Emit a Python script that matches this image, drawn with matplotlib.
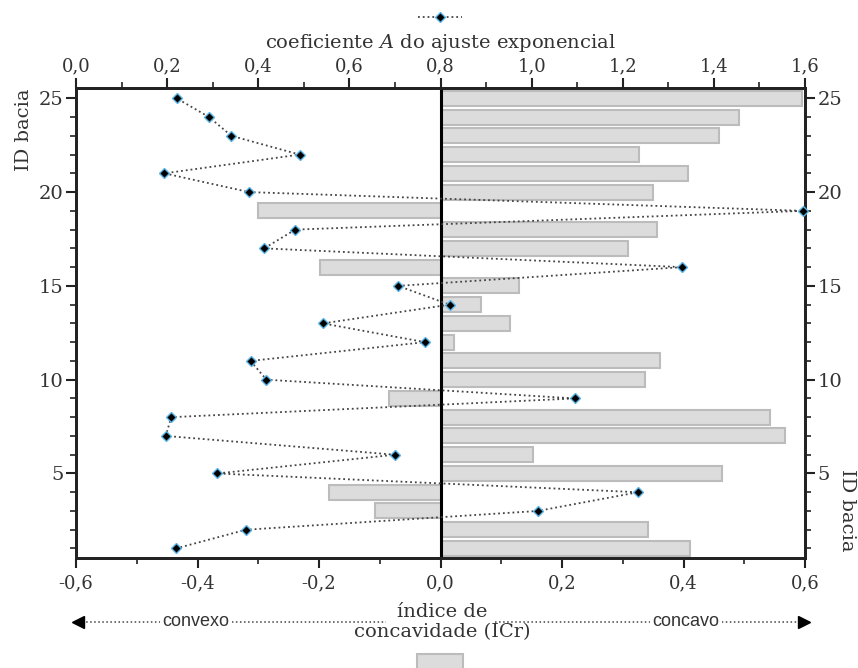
import matplotlib
matplotlib.use("Agg")
import matplotlib.pyplot as plt
from matplotlib.ticker import MultipleLocator, FuncFormatter
from matplotlib.lines import Line2D
from matplotlib.patches import Rectangle

# ID das bacias, índice de concavidade (ICr) e coeficiente A do ajuste exponencial
ids = list(range(1, 26))
icr = [0.411, 0.342, -0.107, -0.184, 0.463, 0.153, 0.567, 0.542, -0.085, 0.336,
       0.361, 0.022, 0.115, 0.067, 0.129, -0.198, 0.308, 0.357, -0.301, 0.350,
       0.407, 0.327, 0.459, 0.491, 0.595]
coef_a = [0.219, 0.373, 1.013, 1.234, 0.310, 0.700, 0.197, 0.209, 1.095, 0.418,
          0.383, 0.766, 0.542, 0.820, 0.707, 1.330, 0.413, 0.481, 1.595, 0.380,
          0.194, 0.491, 0.341, 0.292, 0.221]

W, H = 858, 668
SERIF = "DejaVu Serif"
SANS = "Liberation Sans"
TXT = "#333333"
BAR_FC = "#dcdcdc"
BAR_EC = "#bcbcbc"

plt.rcParams["mathtext.fontset"] = "custom"
plt.rcParams["mathtext.it"] = "DejaVu Serif:italic"
plt.rcParams["mathtext.rm"] = "DejaVu Serif"


def fx(px):
    return px / W


def fy(py):
    return 1 - py / H


def virgula(v, pos):
    if abs(v) < 1e-9:
        v = 0.0
    return f"{v:.1f}".replace(".", ",")


fig = plt.figure(figsize=(W / 100, H / 100), dpi=100)
ax = fig.add_axes([fx(76), fy(557.5), fx(805) - fx(76), fy(88) - fy(557.5)])

ax.barh(ids, icr, height=0.8, color=BAR_FC, edgecolor=BAR_EC, linewidth=1.5, zorder=2)
ax.axvline(0, color="black", lw=2.2, zorder=3)
ax.set_xlim(-0.6, 0.6)
ax.set_ylim(0.52, 25.55)

ax.xaxis.set_major_locator(MultipleLocator(0.2))
ax.xaxis.set_minor_locator(MultipleLocator(0.1))
ax.xaxis.set_major_formatter(FuncFormatter(virgula))
ax.yaxis.set_major_locator(MultipleLocator(5))
ax.yaxis.set_minor_locator(MultipleLocator(1))
ax.tick_params(axis="both", which="major", direction="out", length=7, width=1.5, color="#222222")
ax.tick_params(axis="both", which="minor", direction="out", length=4, width=1.2, color="#222222")
ax.tick_params(axis="y", which="both", left=True, right=True, labelleft=True, labelright=True)
ax.tick_params(axis="x", labelsize=13, labelcolor=TXT, pad=5)
ax.tick_params(axis="y", labelsize=14, labelcolor=TXT, pad=2)
for lab in ax.get_xticklabels() + ax.get_yticklabels():
    lab.set_family(SERIF)
for s in ax.spines.values():
    s.set_linewidth(2)
    s.set_color("#222222")

# eixo superior: coeficiente A
ax2 = ax.twiny()
ax2.plot(coef_a, ids, ls=":", color="#444444", lw=1.3, marker="D", ms=5,
         mfc="black", mec="#5ab4e6", mew=1.0, zorder=5, clip_on=False)
ax2.set_xlim(0, 1.6)
ax2.xaxis.set_major_locator(MultipleLocator(0.2))
ax2.xaxis.set_minor_locator(MultipleLocator(0.1))
ax2.xaxis.set_major_formatter(FuncFormatter(virgula))
ax2.tick_params(axis="x", which="major", direction="out", length=7, width=1.5, color="#222222",
                labelsize=13, labelcolor=TXT, pad=2)
ax2.tick_params(axis="x", which="minor", direction="out", length=4, width=1.2, color="#222222")
for lab in ax2.get_xticklabels():
    lab.set_family(SERIF)
for s in ax2.spines.values():
    s.set_linewidth(2)
    s.set_color("#222222")
fig.text(fx(440), fy(43), "coeficiente $\\mathit{A}$ do ajuste exponencial", ha="center",
         va="center", family=SERIF, fontsize=14, color=TXT)

# rótulos do eixo Y nos dois lados
fig.text(fx(24), fy(130), "ID bacia", rotation=90, ha="center", va="center",
         family=SERIF, fontsize=14, color=TXT)
fig.text(fx(847), fy(510), "ID bacia", rotation=270, ha="center", va="center",
         family=SERIF, fontsize=14, color=TXT)

# legenda da série de pontos
fig.add_artist(Line2D([fx(418), fx(462)], [fy(17), fy(17)], ls=":", color="#444444", lw=1.3))
fig.add_artist(Line2D([fx(440)], [fy(17)], marker="D", ms=5, mfc="black",
                      mec="#5ab4e6", mew=1.0, ls="none"))

# seta convexo / concavo
ya = fy(622)
fig.add_artist(Line2D([fx(78), fx(386)], [ya, ya], ls=":", color="#444444", lw=1.1))
fig.add_artist(Line2D([fx(495), fx(804)], [ya, ya], ls=":", color="#444444", lw=1.1))
fig.add_artist(Line2D([fx(78)], [ya], marker="<", ms=9, color="black", ls="none"))
fig.add_artist(Line2D([fx(804)], [ya], marker=">", ms=9, color="black", ls="none"))
fig.text(fx(196), ya, "convexo", ha="center", va="center", fontsize=13, color=TXT,
         family=SANS, bbox=dict(fc="white", ec="none", pad=1.5))
fig.text(fx(686), ya, "concavo", ha="center", va="center", fontsize=13, color=TXT,
         family=SANS, bbox=dict(fc="white", ec="none", pad=1.5))
fig.text(fx(442), fy(622), "índice de\nconcavidade (ICr)", ha="center", va="center",
         family=SERIF, fontsize=14, color=TXT, linespacing=1.2)

# legenda das barras (cortada na borda inferior)
fig.add_artist(Rectangle((fx(417), fy(672)), fx(463) - fx(417), fy(654) - fy(672),
                         facecolor=BAR_FC, edgecolor=BAR_EC, lw=1.5))

fig.savefig("out.png", dpi=100)
